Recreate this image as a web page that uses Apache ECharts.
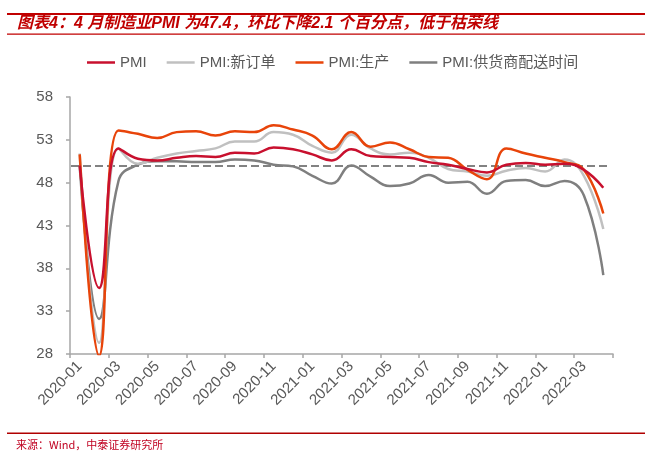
<!DOCTYPE html>
<html>
<head>
<meta charset="utf-8">
<script src="https://cdn.jsdelivr.net/npm/echarts@6/dist/echarts.min.js"></script>
<style>
html,body{margin:0;padding:0;background:#fff;}
#chart{width:652px;height:462px;}
</style>
</head>
<body>
<div id="chart"></div>
<script>
var titleText = '图表4：4 月制造业PMI 为47.4，环比下降2.1 个百分点，低于枯荣线';
var sourceText = '来源：Wind，中泰证券研究所';
var months = ['2020-01','2020-02','2020-03','2020-04','2020-05','2020-06','2020-07','2020-08','2020-09','2020-10','2020-11','2020-12',
  '2021-01','2021-02','2021-03','2021-04','2021-05','2021-06','2021-07','2021-08','2021-09','2021-10','2021-11','2021-12',
  '2022-01','2022-02','2022-03','2022-04'];
var seriesNames = ['PMI','PMI:新订单','PMI:生产','PMI:供货商配送时间'];
var pmi = [50.0,35.7,52.0,50.8,50.6,50.9,51.1,51.0,51.5,51.4,52.1,51.9,51.3,50.6,51.9,51.1,51.0,50.9,50.4,50.1,49.6,49.2,50.1,50.3,50.1,50.2,49.5,47.4];
var newOrders = [51.4,29.3,52.0,50.2,50.9,51.4,51.7,52.0,52.8,52.8,53.9,53.6,52.3,51.5,53.6,52.0,51.3,51.5,50.9,49.6,49.3,48.8,49.4,49.7,49.3,50.7,48.8,42.6];
var production = [51.3,27.8,54.1,53.7,53.2,53.9,54.0,53.5,54.0,53.9,54.7,54.2,53.5,51.9,53.9,52.2,52.7,51.9,51.0,50.9,49.5,48.4,52.0,51.4,50.9,50.4,49.5,44.4];
var supplierDelivery = [49.9,32.1,48.2,50.1,50.5,50.5,50.4,50.4,50.7,50.6,50.1,49.9,48.8,47.9,50.0,48.7,47.6,47.9,48.9,48.0,48.1,46.7,48.2,48.3,47.6,48.2,46.5,37.2];
var threshold = 50;
var yTicks = {min: 28, max: 58, interval: 5};

var colors = ['#C8102E','#C0C0C0','#E8440A','#7F7F7F'];
var values = [pmi, newOrders, production, supplierDelivery];
var fontFam = 'Arial, "Liberation Sans", "Noto Sans CJK SC", sans-serif';

var chart = echarts.init(document.getElementById('chart'));
var series = seriesNames.map(function(n, i){
  return {
    name: n, type: 'line', data: values[i], smooth: 0.45, showSymbol: false, symbol: 'none',
    lineStyle: {color: colors[i], width: 2.5}, itemStyle: {color: colors[i]}
  };
});
series[0].z = 14; series[2].z = 13; series[1].z = 12; series[3].z = 11;
series[3].markLine = {
  silent: true, symbol: 'none', label: {show: false},
  lineStyle: {color: '#595959', type: [8,4], width: 1.5},
  data: [[{x: 71, yAxis: threshold}, {x: 607, yAxis: threshold}]]
};

chart.setOption({
  animation: false,
  backgroundColor: '#fff',
  color: colors,
  textStyle: {fontFamily: fontFam},
  grid: {left: 70, right: 39, top: 97, bottom: 108, containLabel: false},
  legend: {
    data: seriesNames, left: 82, top: 50, icon: 'rect', itemWidth: 28, itemHeight: 2.5, itemGap: 20,
    textStyle: {color: '#595959', fontSize: 15, fontFamily: fontFam}
  },
  xAxis: {
    type: 'category', data: months, boundaryGap: true,
    axisLine: {lineStyle: {color: '#A6A6A6', width: 1.5}},
    axisTick: {show: true, interval: 1, length: 4, lineStyle: {color: '#A6A6A6', width: 1.5}},
    axisLabel: {interval: 1, rotate: 45, fontSize: 15, color: '#595959', margin: 10, fontFamily: fontFam}
  },
  yAxis: {
    type: 'value', min: yTicks.min, max: yTicks.max, interval: yTicks.interval,
    splitLine: {show: false},
    axisLine: {show: true, lineStyle: {color: '#A6A6A6', width: 1.5}},
    axisTick: {show: true, length: 4, lineStyle: {color: '#A6A6A6', width: 1.5}},
    axisLabel: {fontSize: 15, color: '#595959', margin: 17, fontFamily: fontFam}
  },
  graphic: [
    {type: 'rect', shape: {x: 7, y: 13, width: 638, height: 2}, style: {fill: '#C00000'}},
    {type: 'rect', shape: {x: 7, y: 33.5, width: 638, height: 1.2}, style: {fill: '#C00000'}},
    {type: 'text', left: 17, top: 16, style: {text: titleText, fill: '#C00000',
      font: 'italic bold 16px Arial, "Noto Sans CJK SC", sans-serif'}},
    {type: 'rect', shape: {x: 7, y: 432.5, width: 638, height: 1.5}, style: {fill: '#B00000'}},
    {type: 'text', left: 16, top: 439, style: {text: sourceText, fill: '#C00020',
      font: '11px "Noto Sans CJK SC", sans-serif'}}
  ],
  series: series
});
</script>
</body>
</html>
